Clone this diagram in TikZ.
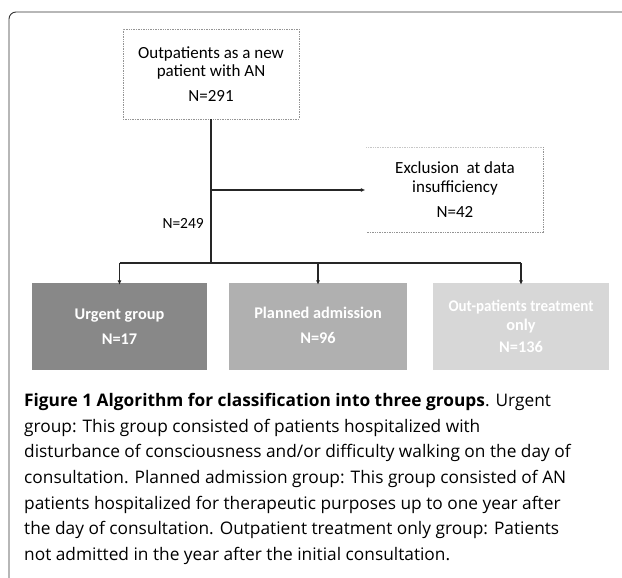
\documentclass[tikz,border=0pt]{standalone}
\usepackage{fontspec}
\setmainfont{Carlito}
\newfontfamily\capfont{Open Sans}
\usetikzlibrary{arrows.meta}
\definecolor{urgfill}{HTML}{888888}
\definecolor{planfill}{HTML}{B0B0B0}
\definecolor{outfill}{HTML}{D7D7D7}
\definecolor{framecol}{HTML}{333333}
\begin{document}
\begin{tikzpicture}[x=1pt,y=-1pt,
  conn/.style={draw=black!85, line width=1.1pt},
  arr/.style={conn, -{Latex[length=4.5pt,width=4pt]}, shorten >=1pt},
  boxedge/.style={draw=black!42, densely dotted, line width=0.7pt},
  infobox/.style={inner sep=0pt, minimum width=176pt, minimum height=89pt, align=center,
    font=\fontsize{17}{18.5}\selectfont},
  groupbox/.style={draw=none, inner sep=0pt, minimum width=176pt, minimum height=87pt,
    align=center, text=white, font=\bfseries\fontsize{16.3}{18.5}\selectfont},
  lbl/.style={font=\fontsize{15.5}{18}\selectfont, inner sep=0pt}
]
\useasboundingbox[fill=white] (0,0) rectangle (622,578);
% outer frame
\draw[draw=framecol, line width=0.9pt, rounded corners=7pt] (9,580) -- (9,12) -- (625,12);

% nodes
\node[infobox, boxedge, minimum width=176pt, minimum height=90pt] (start) at (211,74)
  {Outpatients as a new\\patient with AN\\[6.5pt]N=291};
\node[infobox, minimum width=177pt, minimum height=85pt] (excl) at (455,190)
  {Exclusion\ \ at data\\insufficiency\\[7pt]N=42};
\draw[boxedge, draw=black!22] (excl.north west) -- (excl.north east);
\draw[boxedge] (excl.north east) -- (excl.south east) -- (excl.south west);

\node[groupbox, fill=urgfill, minimum width=175pt] (urg) at (119.5,326.5)
  {Urgent group\\[6.5pt]N=17};
\node[groupbox, fill=planfill, minimum width=178pt] (plan) at (318,326.5)
  {\raisebox{3pt}{Planned admission}\\[6.5pt]\raisebox{3pt}{N=96}};
\node[groupbox, fill=outfill, minimum width=176pt] (outp) at (521,326.5)
  {\scalebox{0.92}[1]{Out-patients treatment}\\only\\[4pt]N=136};

\coordinate (branch) at (start.south |- excl.west);
\coordinate (bus) at (211,263);
\coordinate (busL) at (urg.north |- bus);
\coordinate (busM) at (plan.north |- bus);
\coordinate (busR) at (outp.north |- bus);

\draw[conn] (start.south) -- (bus);
\draw[arr] (branch) -- (excl.west);
\draw[conn] (busL) -- (busR);
\draw[arr] (busL) -- ([yshift=-3pt]urg.north);
\draw[arr] (busM) -- ([yshift=-3pt]plan.north);
\draw[arr] (busR) -- ([yshift=-3pt]outp.north);

\node[lbl, anchor=east] (n249) at (204,223) {N=249};

% caption
\node[anchor=north west, inner sep=0pt, align=left,
  font=\capfont\fontsize{17.3}{25.7}\selectfont] (caption) at (24,393)
{\textbf{Figure 1 Algorithm for classification into three groups}. Urgent\\
group: This group consisted of patients hospitalized with\\
disturbance of consciousness and/or difficulty walking on the day of\\
consultation. Planned admission group: This group consisted of AN\\
patients hospitalized for therapeutic purposes up to one year after\\
the day of consultation. Outpatient treatment only group: Patients\\
not admitted in the year after the initial consultation.};
\end{tikzpicture}
\end{document}
